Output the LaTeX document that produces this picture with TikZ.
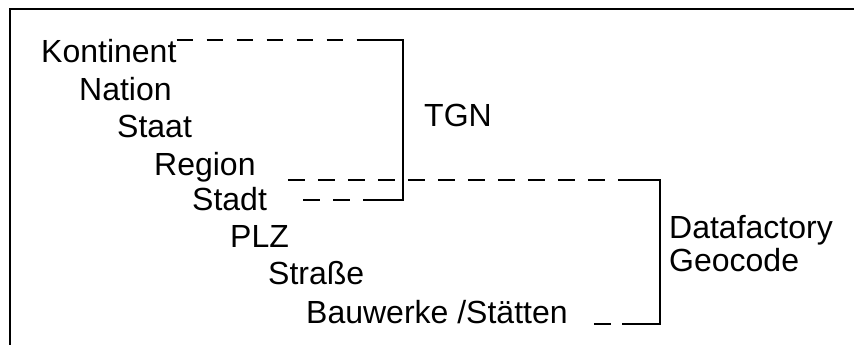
\documentclass[tikz,border=0pt]{standalone}
\usepackage{fontspec}
\setmainfont{Liberation Sans}

\begin{document}
\begin{tikzpicture}[x=1pt,y=-1pt,
    level/.style={anchor=base west,inner sep=0pt,font=\fontsize{32}{38}\selectfont},
    dashline/.style={line width=2.2pt,dash pattern=on 16.7pt off 13.3pt},
    bracket/.style={line width=2.2pt}]
    \useasboundingbox (0,0) rectangle (854,345);
    % Frame
    \draw[bracket] (10,345) -- (10,9) -- (854,9);
    % Hierarchy levels
    \node[level] (kont) at (41,62.7) {Kontinent};
    \node[level] (nation) at (79,100) {Nation};
    \node[level] (staat) at (117,137) {Staat};
    \node[level] (region) at (154,175) {Region};
    \node[level] (stadt) at (192,210) {Stadt};
    \node[level] (plz) at (230,247) {PLZ};
    \node[level] (strasse) at (268,284) {Straße};
    \node[level] (bau) at (306,323) {Bauwerke /Stätten};
    % Labels
    \node[level] (tgn) at (424,126) {TGN};
    \node[level] (df) at (669,238) {Datafactory};
    \node[level] (geo) at (669,271) {Geocode};
    % TGN bracket
    \coordinate (tgnTop) at (403,40);
    \coordinate (tgnBot) at (403,200);
    \draw[dashline] (kont.east |- tgnTop) -- ([xshift=-38pt]tgnTop);
    \draw[bracket] ([xshift=-38pt]tgnTop) -- (tgnTop) -- (tgnBot) -- ([xshift=-38pt]tgnBot);
    \draw[dashline] ([xshift=36pt]stadt.east |- tgnBot) -- ([xshift=-38pt]tgnBot);
    % Datafactory bracket
    \coordinate (dfTop) at (660,180);
    \coordinate (dfBot) at (660,324);
    \draw[dashline] ([xshift=32pt]region.east |- dfTop) -- ([xshift=-37pt]dfTop);
    \draw[bracket] ([xshift=-37pt]dfTop) -- (dfTop) -- (dfBot) -- ([xshift=-38pt]dfBot);
    \draw[dashline] ([xshift=26pt]bau.east |- dfBot) -- ([xshift=-38pt]dfBot);
\end{tikzpicture}
\end{document}
